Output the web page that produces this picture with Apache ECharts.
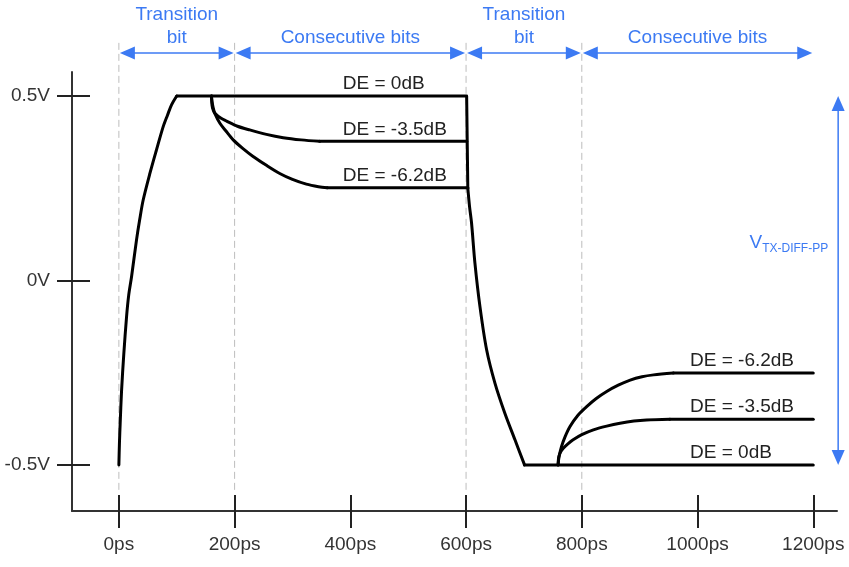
<!DOCTYPE html>
<html>
<head>
<meta charset="utf-8">
<script src="https://cdn.jsdelivr.net/npm/echarts@6/dist/echarts.min.js"></script>
<style>html,body{margin:0;padding:0;background:#fff}#c{width:849px;height:567px}</style>
</head>
<body>
<div id="c"></div>
<script>
// ---- data ----
const X_TICKS = [0, 200, 400, 600, 800, 1000, 1200];
const X_TICK_LABELS = ['0ps', '200ps', '400ps', '600ps', '800ps', '1000ps', '1200ps'];
const Y_TICKS = [-0.5, 0, 0.5];
const Y_TICK_LABELS = ['-0.5V', '0V', '0.5V'];

// curved parts of the waveforms (ps, V)
const RISE_CURVE = [
  [0, -0.5], [1, -0.44], [2.2, -0.39], [4.6, -0.3], [8.5, -0.2], [13.2, -0.1], [17, -0.04],
  [21.9, 0.01], [30.5, 0.11], [36, 0.165], [42, 0.218], [53.6, 0.29], [65, 0.354],
  [76.6, 0.417], [84, 0.448], [91, 0.476], [100, 0.5]
];
const FALL_CURVE = [
  [603, 0.25], [606, 0.2], [609.5, 0.155], [615.3, 0.047], [624, -0.071], [635.5, -0.188],
  [650, -0.279], [667, -0.36], [684.5, -0.432], [701, -0.5]
];
const CURVE_35DB_TOP = [
  [160, 0.5], [161, 0.475], [163, 0.462], [166, 0.453], [176, 0.44], [186, 0.432],
  [205, 0.418], [226, 0.408], [255, 0.396], [284, 0.387], [315, 0.381], [347, 0.377]
];
const CURVE_62DB_TOP = [
  [160, 0.5], [161, 0.485], [163, 0.468], [166, 0.452], [174.6, 0.426], [185, 0.405],
  [197.6, 0.381], [214, 0.358], [232, 0.336], [255, 0.312], [278, 0.29], [300, 0.274],
  [324, 0.261], [345, 0.254], [360, 0.251]
];
const CURVE_35DB_BOT = [
  [759, -0.5], [760, -0.48], [763, -0.466], [768, -0.455], [776, -0.443], [785, -0.432],
  [800, -0.418], [820, -0.405], [843, -0.395], [866, -0.387], [890, -0.381], [912, -0.378],
  [952, -0.376]
];
const CURVE_62DB_BOT = [
  [759, -0.5], [760, -0.485], [761, -0.475], [765, -0.45], [771, -0.424], [779.6, -0.396],
  [793, -0.366], [808.4, -0.342], [825, -0.32], [843, -0.301], [863, -0.284], [883.6, -0.27],
  [904, -0.261], [924, -0.256], [958, -0.251]
];
// straight parts
const STRAIGHT_0DB = [[100, 0.5], [601, 0.5], [603, 0.25]];
const STRAIGHT_0DB_BOT = [[701, -0.5], [1200, -0.5]];
const STRAIGHT_35DB_TOP = [[347, 0.377], [601, 0.377]];
const STRAIGHT_62DB_TOP = [[360, 0.251], [603, 0.251]];
const STRAIGHT_35DB_BOT = [[952, -0.376], [1200, -0.376]];
const STRAIGHT_62DB_BOT = [[958, -0.251], [1200, -0.251]];

// annotations
const GUIDES = [0, 200, 600, 800];
const SPAN_START = [0, 200, 600, 800];
const SPAN_END = [200, 600, 800, 1200];
const SPAN_LABELS = ['Transition\nbit', 'Consecutive bits', 'Transition\nbit', 'Consecutive bits'];
const DE_LABELS = ['DE = 0dB', 'DE = -3.5dB', 'DE = -6.2dB', 'DE = -6.2dB', 'DE = -3.5dB', 'DE = 0dB'];
const DE_LABEL_X = [387, 387, 387, 987, 987, 987];
const DE_LABEL_LEVEL = [0.5, 0.377, 0.251, -0.251, -0.376, -0.5];
const VPP_LABEL = ['V', 'TX-DIFF-PP'];
const VPP_RANGE = [0.5, -0.5];

// ---- chart ----
const BLUE = '#3c7af3';
const FONT = '"Liberation Sans", Arial, sans-serif';
const X_MIN = -81, X_MAX = 1241, Y_MIN = -0.625, Y_MAX = 0.565;
const ARROW_Y = 0.6165, GUIDE_TOP = 0.644, GUIDE_BOT = -0.568, VPP_X = 1243;

function lineSeries(data, smooth) {
  return {
    type: 'line', data: data, showSymbol: false, symbol: 'none',
    smooth: smooth ? 0.3 : false,
    lineStyle: { color: '#000', width: 3, join: 'round', cap: 'round' },
    xAxisIndex: 0, yAxisIndex: 0, z: 5, silent: true
  };
}
function arrowHead(tip, dir, len, half) {
  const bx = tip[0] - dir[0] * len, by = tip[1] - dir[1] * len;
  const px = -dir[1] * half, py = dir[0] * half;
  return { type: 'polygon', shape: { points: [tip, [bx + px, by + py], [bx - px, by - py]] }, style: { fill: BLUE } };
}

const chart = echarts.init(document.getElementById('c'), null, { renderer: 'canvas' });
const axisX = (extra) => Object.assign({
  type: 'value', min: X_MIN, max: X_MAX, position: 'bottom', gridIndex: 0,
  splitLine: { show: false }
}, extra);
const axisY = (extra) => Object.assign({
  type: 'value', min: Y_MIN, max: Y_MAX, position: 'left', gridIndex: 0,
  splitLine: { show: false }
}, extra);

chart.setOption({
  animation: false,
  backgroundColor: '#fff',
  grid: { left: 72, right: 12, top: 72, bottom: 56, containLabel: false },
  xAxis: [
    axisX({
      axisLine: { show: true, onZero: false, lineStyle: { color: '#333', width: 2 } },
      axisTick: { show: true, inside: false, length: 17, customValues: X_TICKS, lineStyle: { color: '#222', width: 2 } },
      axisLabel: { show: true, customValues: X_TICKS, margin: 24, color: '#333', fontSize: 19, fontFamily: FONT,
        formatter: v => X_TICK_LABELS[X_TICKS.indexOf(v)] }
    }),
    axisX({
      axisLine: { show: false, onZero: false },
      axisTick: { show: true, inside: true, length: 16, customValues: X_TICKS, lineStyle: { color: '#222', width: 2 } },
      axisLabel: { show: false }
    })
  ],
  yAxis: [
    axisY({
      axisLine: { show: true, onZero: false, lineStyle: { color: '#333', width: 2 } },
      axisTick: { show: true, inside: false, length: 15, customValues: Y_TICKS, lineStyle: { color: '#222', width: 2 } },
      axisLabel: { show: true, customValues: Y_TICKS, margin: 22, color: '#333', fontSize: 19, fontFamily: FONT,
        formatter: v => Y_TICK_LABELS[Y_TICKS.indexOf(v)] }
    }),
    axisY({
      axisLine: { show: false, onZero: false },
      axisTick: { show: true, inside: true, length: 18, customValues: Y_TICKS, lineStyle: { color: '#222', width: 2 } },
      axisLabel: { show: false }
    })
  ],
  series: [
    {
      type: 'custom', xAxisIndex: 0, yAxisIndex: 0, clip: false, silent: true, z: 1,
      data: GUIDES.map(v => [v]),
      renderItem: (params, api) => {
        const a = api.coord([api.value(0), GUIDE_TOP]);
        const b = api.coord([api.value(0), GUIDE_BOT]);
        return { type: 'line', shape: { x1: a[0], y1: a[1], x2: b[0], y2: b[1] },
          style: { stroke: '#bdbdbd', lineWidth: 1, lineDash: [7, 4] } };
      }
    },
    lineSeries(RISE_CURVE, true),
    lineSeries(FALL_CURVE, true),
    lineSeries(CURVE_35DB_TOP, true),
    lineSeries(CURVE_62DB_TOP, true),
    lineSeries(CURVE_35DB_BOT, true),
    lineSeries(CURVE_62DB_BOT, true),
    lineSeries(STRAIGHT_0DB, false),
    lineSeries(STRAIGHT_0DB_BOT, false),
    lineSeries(STRAIGHT_35DB_TOP, false),
    lineSeries(STRAIGHT_62DB_TOP, false),
    lineSeries(STRAIGHT_35DB_BOT, false),
    lineSeries(STRAIGHT_62DB_BOT, false),
    {
      type: 'custom', xAxisIndex: 0, yAxisIndex: 0, clip: false, silent: true, z: 6,
      data: SPAN_START.map((s, i) => [s, SPAN_END[i], i]),
      renderItem: (params, api) => {
        const a = api.coord([api.value(0), ARROW_Y]);
        const b = api.coord([api.value(1), ARROW_Y]);
        const label = SPAN_LABELS[api.value(2)];
        const lines = label.split('\n');
        const cx = (a[0] + b[0]) / 2;
        const children = [
          { type: 'line', shape: { x1: a[0] + 6, y1: a[1], x2: b[0] - 6, y2: b[1] }, style: { stroke: BLUE, lineWidth: 1.5 } },
          arrowHead([a[0] + 1, a[1]], [-1, 0], 15, 6.5),
          arrowHead([b[0] - 1, b[1]], [1, 0], 15, 6.5)
        ];
        lines.forEach((t, k) => {
          const off = (lines.length - 1 - k) * 23 + 15;
          children.push({ type: 'text', style: { text: t, x: cx, y: a[1] - off, align: 'center', verticalAlign: 'middle',
            fill: BLUE, fontSize: 19, fontFamily: FONT } });
        });
        return { type: 'group', children };
      }
    },
    {
      type: 'custom', xAxisIndex: 0, yAxisIndex: 0, clip: false, silent: true, z: 6,
      data: DE_LABEL_X.map((x, i) => [x, DE_LABEL_LEVEL[i], i]),
      renderItem: (params, api) => {
        const p = api.coord([api.value(0), api.value(1)]);
        return { type: 'text', style: { text: DE_LABELS[api.value(2)], x: p[0], y: p[1] - 12, align: 'left',
          verticalAlign: 'middle', fill: '#222', fontSize: 19, fontFamily: FONT } };
      }
    },
    {
      type: 'custom', xAxisIndex: 0, yAxisIndex: 0, clip: false, silent: true, z: 6,
      data: [[VPP_X, VPP_RANGE[0], VPP_RANGE[1]]],
      renderItem: (params, api) => {
        const a = api.coord([api.value(0), api.value(1)]);
        const b = api.coord([api.value(0), api.value(2)]);
        const my = (a[1] + b[1]) / 2;
        return { type: 'group', children: [
          { type: 'line', shape: { x1: a[0], y1: a[1] + 6, x2: b[0], y2: b[1] - 6 }, style: { stroke: BLUE, lineWidth: 1.5 } },
          arrowHead([a[0], a[1]], [0, -1], 15, 6.5),
          arrowHead([b[0], b[1]], [0, 1], 15, 6.5),
          { type: 'text', style: { text: VPP_LABEL[0], x: a[0] - 76, y: my - 38, align: 'right', verticalAlign: 'middle',
            fill: BLUE, fontSize: 19, fontFamily: FONT } },
          { type: 'text', style: { text: VPP_LABEL[1], x: a[0] - 76, y: my - 32, align: 'left', verticalAlign: 'middle',
            fill: BLUE, fontSize: 12, fontFamily: FONT } }
        ] };
      }
    }
  ]
});
</script>
</body>
</html>
